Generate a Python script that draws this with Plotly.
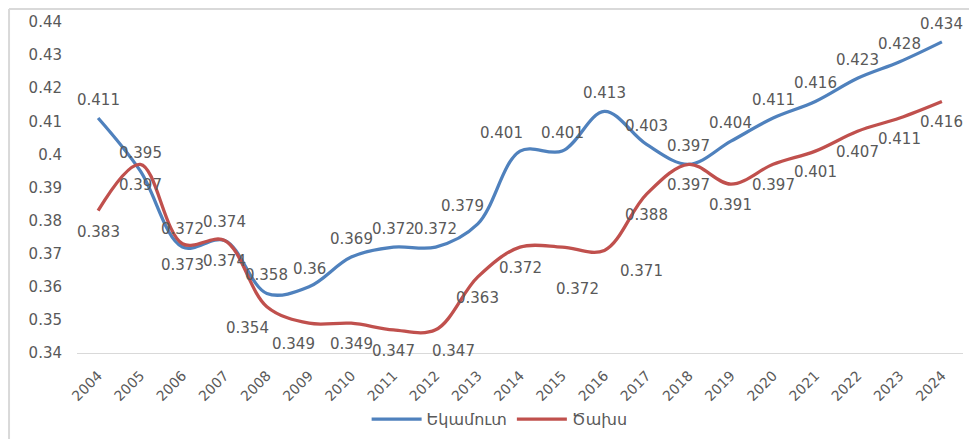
import plotly.graph_objects as go

years = [str(y) for y in range(2004, 2025)]
income = [0.411, 0.395, 0.372, 0.374, 0.358, 0.360, 0.369, 0.372, 0.372, 0.379, 0.401,
          0.401, 0.413, 0.403, 0.397, 0.404, 0.411, 0.416, 0.423, 0.428, 0.434]
expense = [0.383, 0.397, 0.373, 0.374, 0.354, 0.349, 0.349, 0.347, 0.347, 0.363, 0.372,
           0.372, 0.371, 0.388, 0.397, 0.391, 0.397, 0.401, 0.407, 0.411, 0.416]
income_label = "Եկամուտ"
expense_label = "Ծախս"
y_ticks = [0.34, 0.35, 0.36, 0.37, 0.38, 0.39, 0.40, 0.41, 0.42, 0.43, 0.44]
y_ticktext = ["0.34", "0.35", "0.36", "0.37", "0.38", "0.39", "0.4", "0.41", "0.42", "0.43", "0.44"]

BLUE = "#4F81BD"
RED = "#C0504D"
GREY = "#595959"
FONT = "DejaVu Sans"

# manual label nudges (x px, y px) like the hand-moved labels in the source chart
nudge_income = {"2013": (-15, 0), "2014": (-19, 0)}
nudge_expense = {"2008": (-19, 0), "2009": (-16, 0), "2012": (18, 0),
                 "2015": (15, -21), "2016": (37, 0)}

fig = go.Figure()
fig.add_trace(go.Scatter(x=years, y=income, name=income_label, mode="lines",
                         line=dict(color=BLUE, width=3.3, shape="spline", smoothing=1)))
fig.add_trace(go.Scatter(x=years, y=expense, name=expense_label, mode="lines",
                         line=dict(color=RED, width=3.3, shape="spline", smoothing=1)))

annotations = []
for i, (yr, v) in enumerate(zip(years, income)):
    dx, dy = nudge_income.get(yr, (0, 0))
    annotations.append(dict(x=i, y=v, text=f"{v:g}", showarrow=False,
                            xshift=dx, yshift=18 + dy,
                            font=dict(family=FONT, size=15, color=GREY)))
for i, (yr, v) in enumerate(zip(years, expense)):
    dx, dy = nudge_expense.get(yr, (0, 0))
    annotations.append(dict(x=i, y=v, text=f"{v:g}", showarrow=False,
                            xshift=dx, yshift=-21 + dy,
                            font=dict(family=FONT, size=15, color=GREY)))

# the page body adds 8px, so the figure is 8px smaller than the window
fig.update_layout(
    width=969, height=431,
    margin=dict(l=69, r=14, t=14, b=86, autoexpand=False),
    paper_bgcolor="white", plot_bgcolor="white",
    font=dict(family=FONT, size=14, color=GREY),
    showlegend=True,
    legend=dict(orientation="h", x=0.477, xanchor="center", y=-0.2, yanchor="middle",
                font=dict(size=16, color=GREY), itemwidth=50),
    annotations=annotations,
    shapes=[
        dict(type="line", xref="paper", yref="paper", x0=-0.0767, x1=1.2, y0=1.039, y1=1.039,
             line=dict(color="#D9D9D9", width=2)),
        dict(type="line", xref="paper", yref="paper", x0=-0.0767, x1=-0.0767, y0=1.039, y1=-0.4,
             line=dict(color="#D9D9D9", width=2)),
    ],
)
fig.update_xaxes(type="category", range=[-0.5, len(years) - 0.5], tickangle=-45,
                 showgrid=False, showline=True, linecolor="#D9D9D9", linewidth=1, ticks="",
                 automargin=False, ticklabelstandoff=8,
                 tickfont=dict(family=FONT, size=14, color=GREY))
fig.update_yaxes(range=[0.34, 0.44], tickvals=y_ticks, ticktext=y_ticktext,
                 showgrid=False, zeroline=False, ticklabelstandoff=14, automargin=False,
                 tickfont=dict(family=FONT, size=15, color=GREY))

fig.write_html("out.html")
